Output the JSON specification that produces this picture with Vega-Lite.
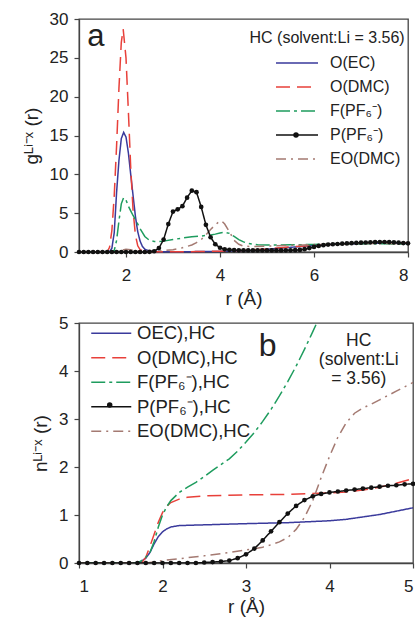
{
  "$schema": "https://vega.github.io/schema/vega-lite/v6.json",
  "background": "white",
  "padding": {"left": 21, "top": 9, "right": 2, "bottom": 2},
  "bounds": "flush",
  "spacing": 71,
  "config": {
    "font": "Liberation Sans",
    "view": {"stroke": "#444", "strokeWidth": 1.3},
    "axis": {
      "grid": false, "domainColor": "#444", "domainWidth": 1.3, "tickColor": "#444", "tickWidth": 1.2,
      "labelColor": "#222", "titleColor": "#222", "labelFontSize": 17, "titleFontSize": 19,
      "titleFontWeight": "normal", "tickSize": 5, "labelFont": "Liberation Sans", "titleFont": "Liberation Sans",
      "labelOverlap": false
    },
    "axisX": {"labelPadding": 10, "titlePadding": 6},
    "axisY": {"labelPadding": 6, "titlePadding": 8}
  },
  "resolve": {
    "scale": {"color": "independent", "strokeDash": "independent", "shape": "independent"},
    "legend": {"color": "independent", "strokeDash": "independent", "shape": "independent"}
  },
  "datasets": {
    "ga": [
      {"s":"O(EC)","r":1.0,"g":0.02},{"s":"O(EC)","r":1.5,"g":0.02},{"s":"O(EC)","r":1.65,"g":0.05},{"s":"O(EC)","r":1.7,"g":0.5},{"s":"O(EC)","r":1.75,"g":2.5},{"s":"O(EC)","r":1.8,"g":7.7},{"s":"O(EC)","r":1.85,"g":11.8},{"s":"O(EC)","r":1.9,"g":14.6},{"s":"O(EC)","r":1.95,"g":15.4},{"s":"O(EC)","r":2.0,"g":14.8},{"s":"O(EC)","r":2.05,"g":12.8},{"s":"O(EC)","r":2.1,"g":10.0},{"s":"O(EC)","r":2.15,"g":7.3},{"s":"O(EC)","r":2.2,"g":4.6},{"s":"O(EC)","r":2.25,"g":2.6},{"s":"O(EC)","r":2.3,"g":1.4},{"s":"O(EC)","r":2.35,"g":0.7},{"s":"O(EC)","r":2.4,"g":0.35},{"s":"O(EC)","r":2.5,"g":0.12},{"s":"O(EC)","r":2.7,"g":0.05},{"s":"O(EC)","r":3.0,"g":0.03},{"s":"O(EC)","r":3.5,"g":0.05},{"s":"O(EC)","r":4.0,"g":0.08},{"s":"O(EC)","r":4.5,"g":0.15},{"s":"O(EC)","r":5.0,"g":0.35},{"s":"O(EC)","r":5.5,"g":0.6},{"s":"O(EC)","r":6.0,"g":0.85},{"s":"O(EC)","r":6.5,"g":1.0},{"s":"O(EC)","r":7.0,"g":1.1},{"s":"O(EC)","r":7.5,"g":1.15},{"s":"O(EC)","r":8.0,"g":1.1},
      {"s":"O(DMC)","r":1.0,"g":0.02},{"s":"O(DMC)","r":1.6,"g":0.02},{"s":"O(DMC)","r":1.65,"g":0.6},{"s":"O(DMC)","r":1.7,"g":2.8},{"s":"O(DMC)","r":1.75,"g":7.3},{"s":"O(DMC)","r":1.8,"g":13.7},{"s":"O(DMC)","r":1.85,"g":21.1},{"s":"O(DMC)","r":1.9,"g":27.0},{"s":"O(DMC)","r":1.94,"g":28.7},{"s":"O(DMC)","r":2.0,"g":25.0},{"s":"O(DMC)","r":2.05,"g":18.2},{"s":"O(DMC)","r":2.1,"g":10.9},{"s":"O(DMC)","r":2.15,"g":5.4},{"s":"O(DMC)","r":2.2,"g":2.2},{"s":"O(DMC)","r":2.25,"g":0.8},{"s":"O(DMC)","r":2.3,"g":0.3},{"s":"O(DMC)","r":2.4,"g":0.08},{"s":"O(DMC)","r":2.6,"g":0.03},{"s":"O(DMC)","r":3.0,"g":0.03},{"s":"O(DMC)","r":3.5,"g":0.05},{"s":"O(DMC)","r":4.0,"g":0.1},{"s":"O(DMC)","r":4.5,"g":0.2},{"s":"O(DMC)","r":5.0,"g":0.4},{"s":"O(DMC)","r":5.5,"g":0.65},{"s":"O(DMC)","r":6.0,"g":0.85},{"s":"O(DMC)","r":6.5,"g":1.0},{"s":"O(DMC)","r":7.0,"g":1.1},{"s":"O(DMC)","r":7.5,"g":1.2},{"s":"O(DMC)","r":8.0,"g":1.15},
      {"s":"F(PF₆⁻)","r":1.0,"g":0.02},{"s":"F(PF₆⁻)","r":1.7,"g":0.02},{"s":"F(PF₆⁻)","r":1.75,"g":0.2},{"s":"F(PF₆⁻)","r":1.8,"g":1.5},{"s":"F(PF₆⁻)","r":1.85,"g":4.0},{"s":"F(PF₆⁻)","r":1.9,"g":6.2},{"s":"F(PF₆⁻)","r":1.95,"g":7.0},{"s":"F(PF₆⁻)","r":2.0,"g":6.7},{"s":"F(PF₆⁻)","r":2.05,"g":5.9},{"s":"F(PF₆⁻)","r":2.1,"g":5.3},{"s":"F(PF₆⁻)","r":2.15,"g":4.7},{"s":"F(PF₆⁻)","r":2.2,"g":4.2},{"s":"F(PF₆⁻)","r":2.3,"g":3.0},{"s":"F(PF₆⁻)","r":2.4,"g":2.0},{"s":"F(PF₆⁻)","r":2.5,"g":1.5},{"s":"F(PF₆⁻)","r":2.6,"g":1.35},{"s":"F(PF₆⁻)","r":2.7,"g":1.35},{"s":"F(PF₆⁻)","r":2.8,"g":1.4},{"s":"F(PF₆⁻)","r":3.0,"g":1.6},{"s":"F(PF₆⁻)","r":3.2,"g":1.8},{"s":"F(PF₆⁻)","r":3.4,"g":1.95},{"s":"F(PF₆⁻)","r":3.6,"g":2.05},{"s":"F(PF₆⁻)","r":3.8,"g":2.2},{"s":"F(PF₆⁻)","r":3.9,"g":2.3},{"s":"F(PF₆⁻)","r":4.0,"g":2.45},{"s":"F(PF₆⁻)","r":4.1,"g":2.55},{"s":"F(PF₆⁻)","r":4.2,"g":2.4},{"s":"F(PF₆⁻)","r":4.3,"g":2.0},{"s":"F(PF₆⁻)","r":4.4,"g":1.6},{"s":"F(PF₆⁻)","r":4.5,"g":1.3},{"s":"F(PF₆⁻)","r":4.6,"g":1.1},{"s":"F(PF₆⁻)","r":4.8,"g":0.92},{"s":"F(PF₆⁻)","r":5.0,"g":0.9},{"s":"F(PF₆⁻)","r":5.5,"g":0.92},{"s":"F(PF₆⁻)","r":6.0,"g":0.98},{"s":"F(PF₆⁻)","r":6.5,"g":1.02},{"s":"F(PF₆⁻)","r":7.0,"g":1.05},{"s":"F(PF₆⁻)","r":7.5,"g":1.05},{"s":"F(PF₆⁻)","r":8.0,"g":1.03},
      {"s":"EO(DMC)","r":1.0,"g":0.02},{"s":"EO(DMC)","r":1.8,"g":0.02},{"s":"EO(DMC)","r":1.9,"g":0.2},{"s":"EO(DMC)","r":2.0,"g":0.35},{"s":"EO(DMC)","r":2.1,"g":0.3},{"s":"EO(DMC)","r":2.2,"g":0.15},{"s":"EO(DMC)","r":2.4,"g":0.08},{"s":"EO(DMC)","r":2.6,"g":0.1},{"s":"EO(DMC)","r":2.8,"g":0.18},{"s":"EO(DMC)","r":3.0,"g":0.3},{"s":"EO(DMC)","r":3.2,"g":0.55},{"s":"EO(DMC)","r":3.4,"g":0.9},{"s":"EO(DMC)","r":3.5,"g":1.2},{"s":"EO(DMC)","r":3.6,"g":1.6},{"s":"EO(DMC)","r":3.7,"g":2.2},{"s":"EO(DMC)","r":3.8,"g":2.9},{"s":"EO(DMC)","r":3.9,"g":3.5},{"s":"EO(DMC)","r":4.0,"g":4.0},{"s":"EO(DMC)","r":4.05,"g":3.9},{"s":"EO(DMC)","r":4.1,"g":3.6},{"s":"EO(DMC)","r":4.2,"g":2.6},{"s":"EO(DMC)","r":4.3,"g":1.5},{"s":"EO(DMC)","r":4.4,"g":1.0},{"s":"EO(DMC)","r":4.5,"g":0.75},{"s":"EO(DMC)","r":4.7,"g":0.7},{"s":"EO(DMC)","r":5.0,"g":0.75},{"s":"EO(DMC)","r":5.5,"g":0.85},{"s":"EO(DMC)","r":6.0,"g":0.95},{"s":"EO(DMC)","r":6.5,"g":1.05},{"s":"EO(DMC)","r":7.0,"g":1.1},{"s":"EO(DMC)","r":7.5,"g":1.1},{"s":"EO(DMC)","r":8.0,"g":1.05},
      {"s":"P(PF₆⁻)","r":1.0,"g":0},{"s":"P(PF₆⁻)","r":1.1,"g":0},{"s":"P(PF₆⁻)","r":1.2,"g":0},{"s":"P(PF₆⁻)","r":1.3,"g":0},{"s":"P(PF₆⁻)","r":1.4,"g":0},{"s":"P(PF₆⁻)","r":1.5,"g":0},{"s":"P(PF₆⁻)","r":1.6,"g":0},{"s":"P(PF₆⁻)","r":1.7,"g":0},{"s":"P(PF₆⁻)","r":1.8,"g":0},{"s":"P(PF₆⁻)","r":1.9,"g":0},{"s":"P(PF₆⁻)","r":2.0,"g":0},{"s":"P(PF₆⁻)","r":2.1,"g":0},{"s":"P(PF₆⁻)","r":2.2,"g":0},{"s":"P(PF₆⁻)","r":2.3,"g":0},{"s":"P(PF₆⁻)","r":2.4,"g":0},{"s":"P(PF₆⁻)","r":2.5,"g":0.02},{"s":"P(PF₆⁻)","r":2.6,"g":0.1},{"s":"P(PF₆⁻)","r":2.7,"g":0.5},{"s":"P(PF₆⁻)","r":2.8,"g":1.6},{"s":"P(PF₆⁻)","r":2.9,"g":3.6},{"s":"P(PF₆⁻)","r":3.0,"g":5.2},{"s":"P(PF₆⁻)","r":3.1,"g":5.5},{"s":"P(PF₆⁻)","r":3.2,"g":5.9},{"s":"P(PF₆⁻)","r":3.3,"g":7.0},{"s":"P(PF₆⁻)","r":3.4,"g":7.9},{"s":"P(PF₆⁻)","r":3.5,"g":7.7},{"s":"P(PF₆⁻)","r":3.6,"g":5.8},{"s":"P(PF₆⁻)","r":3.7,"g":3.5},{"s":"P(PF₆⁻)","r":3.8,"g":1.9},{"s":"P(PF₆⁻)","r":3.9,"g":1.0},{"s":"P(PF₆⁻)","r":4.0,"g":0.55},{"s":"P(PF₆⁻)","r":4.1,"g":0.35},{"s":"P(PF₆⁻)","r":4.2,"g":0.28},{"s":"P(PF₆⁻)","r":4.3,"g":0.25},{"s":"P(PF₆⁻)","r":4.4,"g":0.22},{"s":"P(PF₆⁻)","r":4.5,"g":0.2},{"s":"P(PF₆⁻)","r":4.6,"g":0.2},{"s":"P(PF₆⁻)","r":4.7,"g":0.2},{"s":"P(PF₆⁻)","r":4.8,"g":0.2},{"s":"P(PF₆⁻)","r":4.9,"g":0.2},{"s":"P(PF₆⁻)","r":5.0,"g":0.2},{"s":"P(PF₆⁻)","r":5.1,"g":0.2},{"s":"P(PF₆⁻)","r":5.2,"g":0.2},{"s":"P(PF₆⁻)","r":5.3,"g":0.2},{"s":"P(PF₆⁻)","r":5.4,"g":0.21},{"s":"P(PF₆⁻)","r":5.5,"g":0.22},{"s":"P(PF₆⁻)","r":5.6,"g":0.23},{"s":"P(PF₆⁻)","r":5.7,"g":0.27},{"s":"P(PF₆⁻)","r":5.8,"g":0.36},{"s":"P(PF₆⁻)","r":5.9,"g":0.5},{"s":"P(PF₆⁻)","r":6.0,"g":0.65},{"s":"P(PF₆⁻)","r":6.1,"g":0.78},{"s":"P(PF₆⁻)","r":6.2,"g":0.88},{"s":"P(PF₆⁻)","r":6.3,"g":0.95},{"s":"P(PF₆⁻)","r":6.4,"g":1.0},{"s":"P(PF₆⁻)","r":6.5,"g":1.03},{"s":"P(PF₆⁻)","r":6.6,"g":1.07},{"s":"P(PF₆⁻)","r":6.7,"g":1.1},{"s":"P(PF₆⁻)","r":6.8,"g":1.14},{"s":"P(PF₆⁻)","r":6.9,"g":1.17},{"s":"P(PF₆⁻)","r":7.0,"g":1.2},{"s":"P(PF₆⁻)","r":7.1,"g":1.22},{"s":"P(PF₆⁻)","r":7.2,"g":1.25},{"s":"P(PF₆⁻)","r":7.3,"g":1.27},{"s":"P(PF₆⁻)","r":7.4,"g":1.28},{"s":"P(PF₆⁻)","r":7.5,"g":1.29},{"s":"P(PF₆⁻)","r":7.6,"g":1.28},{"s":"P(PF₆⁻)","r":7.7,"g":1.25},{"s":"P(PF₆⁻)","r":7.8,"g":1.2},{"s":"P(PF₆⁻)","r":7.9,"g":1.15},{"s":"P(PF₆⁻)","r":8.0,"g":1.12}
    ],
    "nb": [
      {"s":"OEC),HC","r":1.0,"n":0},{"s":"OEC),HC","r":1.7,"n":0},{"s":"OEC),HC","r":1.75,"n":0.04},{"s":"OEC),HC","r":1.8,"n":0.1},{"s":"OEC),HC","r":1.85,"n":0.22},{"s":"OEC),HC","r":1.9,"n":0.4},{"s":"OEC),HC","r":1.95,"n":0.55},{"s":"OEC),HC","r":2.0,"n":0.65},{"s":"OEC),HC","r":2.05,"n":0.71},{"s":"OEC),HC","r":2.1,"n":0.75},{"s":"OEC),HC","r":2.2,"n":0.78},{"s":"OEC),HC","r":2.4,"n":0.79},{"s":"OEC),HC","r":2.6,"n":0.8},{"s":"OEC),HC","r":3.0,"n":0.82},{"s":"OEC),HC","r":3.5,"n":0.84},{"s":"OEC),HC","r":4.0,"n":0.88},{"s":"OEC),HC","r":4.2,"n":0.91},{"s":"OEC),HC","r":4.4,"n":0.96},{"s":"OEC),HC","r":4.6,"n":1.01},{"s":"OEC),HC","r":4.8,"n":1.08},{"s":"OEC),HC","r":5.0,"n":1.15},
      {"s":"O(DMC),HC","r":1.0,"n":0},{"s":"O(DMC),HC","r":1.75,"n":0},{"s":"O(DMC),HC","r":1.8,"n":0.12},{"s":"O(DMC),HC","r":1.85,"n":0.35},{"s":"O(DMC),HC","r":1.9,"n":0.6},{"s":"O(DMC),HC","r":1.95,"n":0.85},{"s":"O(DMC),HC","r":2.0,"n":1.05},{"s":"O(DMC),HC","r":2.05,"n":1.18},{"s":"O(DMC),HC","r":2.1,"n":1.26},{"s":"O(DMC),HC","r":2.2,"n":1.33},{"s":"O(DMC),HC","r":2.3,"n":1.37},{"s":"O(DMC),HC","r":2.5,"n":1.4},{"s":"O(DMC),HC","r":3.0,"n":1.42},{"s":"O(DMC),HC","r":3.5,"n":1.43},{"s":"O(DMC),HC","r":4.0,"n":1.46},{"s":"O(DMC),HC","r":4.2,"n":1.48},{"s":"O(DMC),HC","r":4.4,"n":1.52},{"s":"O(DMC),HC","r":4.6,"n":1.58},{"s":"O(DMC),HC","r":4.8,"n":1.66},{"s":"O(DMC),HC","r":5.0,"n":1.76},
      {"s":"F(PF₆⁻),HC","r":1.0,"n":0},{"s":"F(PF₆⁻),HC","r":1.7,"n":0},{"s":"F(PF₆⁻),HC","r":1.75,"n":0.05},{"s":"F(PF₆⁻),HC","r":1.8,"n":0.12},{"s":"F(PF₆⁻),HC","r":1.85,"n":0.22},{"s":"F(PF₆⁻),HC","r":1.9,"n":0.45},{"s":"F(PF₆⁻),HC","r":1.95,"n":0.75},{"s":"F(PF₆⁻),HC","r":2.0,"n":1.0},{"s":"F(PF₆⁻),HC","r":2.05,"n":1.17},{"s":"F(PF₆⁻),HC","r":2.1,"n":1.3},{"s":"F(PF₆⁻),HC","r":2.2,"n":1.47},{"s":"F(PF₆⁻),HC","r":2.3,"n":1.58},{"s":"F(PF₆⁻),HC","r":2.4,"n":1.68},{"s":"F(PF₆⁻),HC","r":2.5,"n":1.8},{"s":"F(PF₆⁻),HC","r":2.6,"n":1.93},{"s":"F(PF₆⁻),HC","r":2.7,"n":2.05},{"s":"F(PF₆⁻),HC","r":2.8,"n":2.17},{"s":"F(PF₆⁻),HC","r":2.9,"n":2.33},{"s":"F(PF₆⁻),HC","r":3.0,"n":2.52},{"s":"F(PF₆⁻),HC","r":3.1,"n":2.72},{"s":"F(PF₆⁻),HC","r":3.2,"n":2.95},{"s":"F(PF₆⁻),HC","r":3.3,"n":3.2},{"s":"F(PF₆⁻),HC","r":3.4,"n":3.48},{"s":"F(PF₆⁻),HC","r":3.5,"n":3.78},{"s":"F(PF₆⁻),HC","r":3.6,"n":4.1},{"s":"F(PF₆⁻),HC","r":3.7,"n":4.45},{"s":"F(PF₆⁻),HC","r":3.8,"n":4.82},{"s":"F(PF₆⁻),HC","r":3.9,"n":5.2},{"s":"F(PF₆⁻),HC","r":4.0,"n":5.6},
      {"s":"EO(DMC),HC","r":1.0,"n":0},{"s":"EO(DMC),HC","r":1.8,"n":0},{"s":"EO(DMC),HC","r":1.9,"n":0.02},{"s":"EO(DMC),HC","r":2.0,"n":0.05},{"s":"EO(DMC),HC","r":2.2,"n":0.09},{"s":"EO(DMC),HC","r":2.5,"n":0.15},{"s":"EO(DMC),HC","r":2.8,"n":0.22},{"s":"EO(DMC),HC","r":3.0,"n":0.27},{"s":"EO(DMC),HC","r":3.2,"n":0.33},{"s":"EO(DMC),HC","r":3.3,"n":0.38},{"s":"EO(DMC),HC","r":3.4,"n":0.44},{"s":"EO(DMC),HC","r":3.5,"n":0.53},{"s":"EO(DMC),HC","r":3.6,"n":0.7},{"s":"EO(DMC),HC","r":3.7,"n":0.95},{"s":"EO(DMC),HC","r":3.8,"n":1.3},{"s":"EO(DMC),HC","r":3.9,"n":1.78},{"s":"EO(DMC),HC","r":4.0,"n":2.22},{"s":"EO(DMC),HC","r":4.1,"n":2.62},{"s":"EO(DMC),HC","r":4.2,"n":2.92},{"s":"EO(DMC),HC","r":4.3,"n":3.12},{"s":"EO(DMC),HC","r":4.4,"n":3.23},{"s":"EO(DMC),HC","r":4.5,"n":3.31},{"s":"EO(DMC),HC","r":4.6,"n":3.4},{"s":"EO(DMC),HC","r":4.7,"n":3.49},{"s":"EO(DMC),HC","r":4.8,"n":3.58},{"s":"EO(DMC),HC","r":4.9,"n":3.67},{"s":"EO(DMC),HC","r":5.0,"n":3.76},
      {"s":"P(PF₆⁻),HC","r":1.0,"n":0},{"s":"P(PF₆⁻),HC","r":1.1,"n":0},{"s":"P(PF₆⁻),HC","r":1.2,"n":0},{"s":"P(PF₆⁻),HC","r":1.3,"n":0},{"s":"P(PF₆⁻),HC","r":1.4,"n":0},{"s":"P(PF₆⁻),HC","r":1.5,"n":0},{"s":"P(PF₆⁻),HC","r":1.6,"n":0},{"s":"P(PF₆⁻),HC","r":1.7,"n":0},{"s":"P(PF₆⁻),HC","r":1.8,"n":0},{"s":"P(PF₆⁻),HC","r":1.9,"n":0},{"s":"P(PF₆⁻),HC","r":2.0,"n":0},{"s":"P(PF₆⁻),HC","r":2.1,"n":0},{"s":"P(PF₆⁻),HC","r":2.2,"n":0},{"s":"P(PF₆⁻),HC","r":2.3,"n":0},{"s":"P(PF₆⁻),HC","r":2.4,"n":0},{"s":"P(PF₆⁻),HC","r":2.5,"n":0.01},{"s":"P(PF₆⁻),HC","r":2.6,"n":0.02},{"s":"P(PF₆⁻),HC","r":2.7,"n":0.03},{"s":"P(PF₆⁻),HC","r":2.8,"n":0.05},{"s":"P(PF₆⁻),HC","r":2.9,"n":0.1},{"s":"P(PF₆⁻),HC","r":3.0,"n":0.18},{"s":"P(PF₆⁻),HC","r":3.1,"n":0.3},{"s":"P(PF₆⁻),HC","r":3.2,"n":0.47},{"s":"P(PF₆⁻),HC","r":3.3,"n":0.66},{"s":"P(PF₆⁻),HC","r":3.4,"n":0.85},{"s":"P(PF₆⁻),HC","r":3.5,"n":1.03},{"s":"P(PF₆⁻),HC","r":3.6,"n":1.19},{"s":"P(PF₆⁻),HC","r":3.7,"n":1.31},{"s":"P(PF₆⁻),HC","r":3.8,"n":1.39},{"s":"P(PF₆⁻),HC","r":3.9,"n":1.44},{"s":"P(PF₆⁻),HC","r":4.0,"n":1.47},{"s":"P(PF₆⁻),HC","r":4.1,"n":1.49},{"s":"P(PF₆⁻),HC","r":4.2,"n":1.51},{"s":"P(PF₆⁻),HC","r":4.3,"n":1.53},{"s":"P(PF₆⁻),HC","r":4.4,"n":1.55},{"s":"P(PF₆⁻),HC","r":4.5,"n":1.57},{"s":"P(PF₆⁻),HC","r":4.6,"n":1.59},{"s":"P(PF₆⁻),HC","r":4.7,"n":1.61},{"s":"P(PF₆⁻),HC","r":4.8,"n":1.62},{"s":"P(PF₆⁻),HC","r":4.9,"n":1.64},{"s":"P(PF₆⁻),HC","r":5.0,"n":1.65}
    ]
  },
  "vconcat": [
    {
      "width": 329,
      "height": 233,
      "data": {"name": "ga"},
      "layer": [
        {
          "mark": {"type": "line", "strokeWidth": 1.5},
          "encoding": {
            "x": {"field": "r", "type": "quantitative", "scale": {"domain": [1, 8], "nice": false, "zero": false}, "axis": {"values": [2, 4, 6, 8], "format": "d", "title": "r (Å)"}},
            "y": {"field": "g", "type": "quantitative", "scale": {"domain": [0, 30], "nice": false}, "axis": {"values": [0, 5, 10, 15, 20, 25, 30], "format": "d", "title": "gᴸⁱ⁻ˣ (r)"}},
            "color": {
              "field": "s", "type": "nominal",
              "scale": {"domain": ["O(EC)", "O(DMC)", "F(PF₆⁻)", "P(PF₆⁻)", "EO(DMC)"], "range": ["#3a3a9c", "#e8403a", "#1e9c5e", "#111111", "#a47a72"]},
              "legend": {
                "orient": "none", "legendX": 210, "legendY": 36, "title": null, "padding": 0,
                "labelFontSize": 16, "labelColor": "#222", "labelFont": "Liberation Sans", "labelOffset": 25,
                "symbolType": "M-3,0H3", "symbolSize": 196, "symbolStrokeWidth": 1.5, "rowPadding": 8
              }
            },
            "strokeDash": {
              "field": "s", "type": "nominal",
              "scale": {"domain": ["O(EC)", "O(DMC)", "F(PF₆⁻)", "P(PF₆⁻)", "EO(DMC)"], "range": [[1, 0], [14, 7], [14, 4, 3, 4], [1, 0], [10, 5, 2, 5]]},
              "legend": {
                "orient": "none", "legendX": 210, "legendY": 36, "title": null, "padding": 0,
                "labelFontSize": 16, "labelColor": "#222", "labelFont": "Liberation Sans", "labelOffset": 25,
                "symbolType": "M-3,0H3", "symbolSize": 196, "symbolStrokeWidth": 1.5, "rowPadding": 8
              }
            }
          }
        },
        {
          "transform": [{"filter": {"field": "s", "equal": "P(PF₆⁻)"}}],
          "mark": {"type": "point", "filled": true, "size": 22, "color": "#111111", "opacity": 1},
          "encoding": {
            "x": {"field": "r", "type": "quantitative", "axis": {"values": [2, 4, 6, 8], "format": "d", "title": "r (Å)"}},
            "y": {"field": "g", "type": "quantitative", "axis": {"values": [0, 5, 10, 15, 20, 25, 30], "format": "d", "title": "gᴸⁱ⁻ˣ (r)"}},
            "shape": {
              "field": "s", "type": "nominal",
              "scale": {"domain": ["P(PF₆⁻)"], "range": ["circle"]},
              "legend": {"orient": "none", "legendX": 214, "legendY": 113, "title": null, "padding": 0, "labelExpr": "''", "labelFontSize": 1, "symbolSize": 30, "symbolFillColor": "#111111", "symbolStrokeWidth": 0}
            }
          }
        },
        {
          "transform": [{"aggregate": [{"op": "count", "as": "c"}]}],
          "mark": {"type": "text", "fontSize": 31, "align": "center", "baseline": "alphabetic", "color": "#222", "font": "Liberation Sans"},
          "encoding": {
            "x": {"datum": 1.36, "type": "quantitative", "axis": {"values": [2, 4, 6, 8], "format": "d", "title": "r (Å)"}},
            "y": {"datum": 26.5, "type": "quantitative", "axis": {"values": [0, 5, 10, 15, 20, 25, 30], "format": "d", "title": "gᴸⁱ⁻ˣ (r)"}},
            "text": {"value": "a"}
          }
        },
        {
          "transform": [{"aggregate": [{"op": "count", "as": "c"}]}],
          "mark": {"type": "text", "fontSize": 16, "align": "right", "baseline": "alphabetic", "color": "#222", "font": "Liberation Sans"},
          "encoding": {
            "x": {"datum": 7.93, "type": "quantitative", "axis": {"values": [2, 4, 6, 8], "format": "d", "title": "r (Å)"}},
            "y": {"datum": 26.9, "type": "quantitative", "axis": {"values": [0, 5, 10, 15, 20, 25, 30], "format": "d", "title": "gᴸⁱ⁻ˣ (r)"}},
            "text": {"value": "HC (solvent:Li = 3.56)"}
          }
        }
      ]
    },
    {
      "width": 334,
      "height": 240,
      "data": {"name": "nb"},
      "layer": [
        {
          "mark": {"type": "line", "strokeWidth": 1.5, "clip": true},
          "encoding": {
            "x": {"field": "r", "type": "quantitative", "scale": {"domain": [1, 5], "nice": false, "zero": false}, "axis": {"values": [1, 2, 3, 4, 5], "format": "d", "title": "r (Å)", "titlePadding": 3}},
            "y": {"field": "n", "type": "quantitative", "scale": {"domain": [0, 5], "nice": false}, "axis": {"values": [0, 1, 2, 3, 4, 5], "format": "d", "title": "nᴸⁱ⁻ˣ (r)"}},
            "color": {
              "field": "s", "type": "nominal",
              "scale": {"domain": ["OEC),HC", "O(DMC),HC", "F(PF₆⁻),HC", "P(PF₆⁻),HC", "EO(DMC),HC"], "range": ["#3a3a9c", "#e8403a", "#1e9c5e", "#111111", "#a47a72"]},
              "legend": {
                "orient": "none", "legendX": 23, "legendY": 1, "title": null, "padding": 0,
                "labelFontSize": 18.5, "labelColor": "#222", "labelFont": "Liberation Sans", "labelOffset": 16.5,
                "symbolType": "M-3,0H3", "symbolSize": 178, "symbolStrokeWidth": 1.5, "rowPadding": 5.5
              }
            },
            "strokeDash": {
              "field": "s", "type": "nominal",
              "scale": {"domain": ["OEC),HC", "O(DMC),HC", "F(PF₆⁻),HC", "P(PF₆⁻),HC", "EO(DMC),HC"], "range": [[1, 0], [14, 7], [14, 4, 3, 4], [1, 0], [10, 5, 2, 5]]},
              "legend": {
                "orient": "none", "legendX": 23, "legendY": 1, "title": null, "padding": 0,
                "labelFontSize": 18.5, "labelColor": "#222", "labelFont": "Liberation Sans", "labelOffset": 16.5,
                "symbolType": "M-3,0H3", "symbolSize": 178, "symbolStrokeWidth": 1.5, "rowPadding": 5.5
              }
            }
          }
        },
        {
          "transform": [{"filter": {"field": "s", "equal": "P(PF₆⁻),HC"}}],
          "mark": {"type": "point", "filled": true, "size": 22, "color": "#111111", "opacity": 1},
          "encoding": {
            "x": {"field": "r", "type": "quantitative", "axis": {"values": [1, 2, 3, 4, 5], "format": "d", "title": "r (Å)", "titlePadding": 3}},
            "y": {"field": "n", "type": "quantitative", "axis": {"values": [0, 1, 2, 3, 4, 5], "format": "d", "title": "nᴸⁱ⁻ˣ (r)"}},
            "shape": {
              "field": "s", "type": "nominal",
              "scale": {"domain": ["P(PF₆⁻),HC"], "range": ["circle"]},
              "legend": {"orient": "none", "legendX": 27.7, "legendY": 79, "title": null, "padding": 0, "labelExpr": "''", "labelFontSize": 1, "symbolSize": 30, "symbolFillColor": "#111111", "symbolStrokeWidth": 0}
            }
          }
        },
        {
          "transform": [{"aggregate": [{"op": "count", "as": "c"}]}],
          "mark": {"type": "text", "fontSize": 32, "align": "center", "baseline": "alphabetic", "color": "#222", "font": "Liberation Sans"},
          "encoding": {
            "x": {"datum": 3.26, "type": "quantitative", "axis": {"values": [1, 2, 3, 4, 5], "format": "d", "title": "r (Å)", "titlePadding": 3}},
            "y": {"datum": 4.31, "type": "quantitative", "axis": {"values": [0, 1, 2, 3, 4, 5], "format": "d", "title": "nᴸⁱ⁻ˣ (r)"}},
            "text": {"value": "b"}
          }
        },
        {
          "transform": [{"aggregate": [{"op": "count", "as": "c"}]}],
          "mark": {"type": "text", "fontSize": 17.5, "align": "center", "baseline": "alphabetic", "lineHeight": 19, "color": "#222", "font": "Liberation Sans"},
          "encoding": {
            "x": {"datum": 4.35, "type": "quantitative", "axis": {"values": [1, 2, 3, 4, 5], "format": "d", "title": "r (Å)", "titlePadding": 3}},
            "y": {"datum": 4.52, "type": "quantitative", "axis": {"values": [0, 1, 2, 3, 4, 5], "format": "d", "title": "nᴸⁱ⁻ˣ (r)"}},
            "text": {"value": ["HC", "(solvent:Li", "= 3.56)"]}
          }
        }
      ]
    }
  ]
}
